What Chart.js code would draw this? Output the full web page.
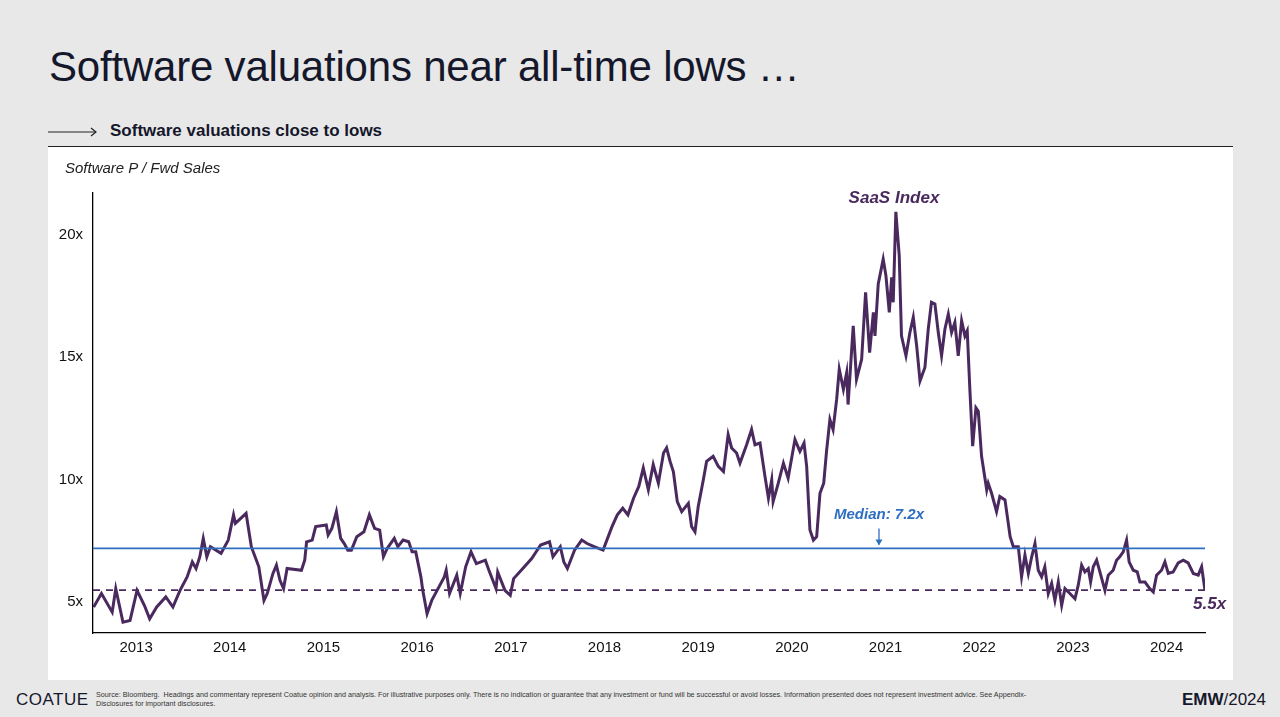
<!DOCTYPE html>
<html>
<head>
<meta charset="utf-8">
<script src="https://cdn.jsdelivr.net/npm/chart.js@4.4.0/dist/chart.umd.min.js"></script>
<style>
  body { margin: 0; width: 1280px; height: 717px; background: #e8e8e8; font-family: "Liberation Sans", Arial, sans-serif; position: relative; overflow: hidden; }
  #title { position: absolute; left: 49px; top: 43px; font-size: 42px; color: #15172b; letter-spacing: -0.2px; }
  #sub { position: absolute; left: 48px; top: 121px; font-size: 17px; font-weight: bold; color: #15172b; }
  #sub svg { vertical-align: middle; margin-right: 10px; }
  #rule { position: absolute; left: 48px; top: 146px; width: 1185px; height: 1px; background: #222; }
  #panel { position: absolute; left: 48px; top: 147px; width: 1185px; height: 533px; background: #fff; }
  #ylab { position: absolute; left: 65px; top: 159px; font-size: 15px; font-style: italic; color: #222; }
  #logo { position: absolute; left: 16px; top: 690px; font-size: 17px; color: #15172b; letter-spacing: 0.5px; }
  #src { position: absolute; left: 96px; top: 690px; width: 1050px; font-size: 7.2px; line-height: 9px; color: #333; }
  #emw { position: absolute; right: 14px; top: 690px; font-size: 17px; color: #15172b; }
</style>
</head>
<body>
<div id="title">Software valuations near all-time lows …</div>
<div id="sub"><svg width="52" height="10"><line x1="0" y1="5" x2="48" y2="5" stroke="#222" stroke-width="1.2"/><polyline points="43,1 48,5 43,9" fill="none" stroke="#222" stroke-width="1.2"/></svg>Software valuations close to lows</div>
<div id="rule"></div>
<div id="panel"><canvas id="saasChart" width="1185" height="533"></canvas></div>
<div id="ylab">Software P / Fwd Sales</div>
<div id="logo">COATUE</div>
<div id="src">Source: Bloomberg.&nbsp; Headings and commentary represent Coatue opinion and analysis. For illustrative purposes only. There is no indication or guarantee that any investment or fund will be successful or avoid losses. Information presented does not represent investment advice. See Appendix-<br>Disclosures for important disclosures.</div>
<div id="emw"><b>EMW</b>/2024</div>
<script>
// Software P / Fwd Sales (year, multiple)
const saasData = [
  [2012.547,4.81],[2012.63,5.36],[2012.745,4.60],[2012.783,5.56],[2012.86,4.19],[2012.935,4.26],
  [2013.01,5.49],[2013.088,4.88],[2013.145,4.33],[2013.22,4.81],[2013.317,5.22],[2013.393,4.81],
  [2013.469,5.49],[2013.545,6.04],[2013.60,6.65],[2013.64,6.38],[2013.68,6.86],[2013.717,7.61],
  [2013.755,6.86],[2013.793,7.27],[2013.907,7.0],[2013.984,7.54],[2014.04,8.57],[2014.06,8.22],
  [2014.174,8.63],[2014.23,7.27],[2014.31,6.45],[2014.365,5.08],[2014.40,5.36],[2014.46,6.17],
  [2014.498,6.52],[2014.536,5.90],[2014.574,5.56],[2014.612,6.38],[2014.765,6.31],[2014.80,6.72],
  [2014.82,7.47],[2014.88,7.54],[2014.917,8.09],[2015.03,8.16],[2015.05,7.75],[2015.09,8.02],
  [2015.138,8.70],[2015.184,7.61],[2015.222,7.40],[2015.26,7.13],[2015.298,7.13],[2015.356,7.68],
  [2015.432,7.88],[2015.49,8.57],[2015.546,8.02],[2015.60,7.95],[2015.64,6.86],[2015.68,7.2],
  [2015.756,7.61],[2015.794,7.27],[2015.85,7.54],[2015.91,7.47],[2015.946,7.06],[2015.985,7.06],
  [2016.04,6.04],[2016.06,5.49],[2016.106,4.54],[2016.156,5.08],[2016.213,5.49],[2016.29,6.04],
  [2016.31,6.31],[2016.346,5.36],[2016.423,6.11],[2016.46,5.36],[2016.518,6.45],[2016.575,7.06],
  [2016.632,6.58],[2016.728,6.72],[2016.766,6.31],[2016.842,5.56],[2016.86,6.24],[2016.937,5.49],
  [2016.994,5.29],[2017.03,5.97],[2017.128,6.38],[2017.223,6.79],[2017.318,7.34],[2017.413,7.47],
  [2017.45,6.86],[2017.528,7.27],[2017.566,6.65],[2017.604,6.38],[2017.68,7.13],[2017.757,7.54],
  [2017.814,7.40],[2017.89,7.27],[2017.985,7.13],[2018.08,8.09],[2018.137,8.57],[2018.195,8.84],
  [2018.25,8.57],[2018.31,9.25],[2018.366,9.73],[2018.414,10.48],[2018.468,9.59],[2018.52,10.62],
  [2018.575,9.86],[2018.63,11.09],[2018.663,11.3],[2018.70,10.75],[2018.735,10.34],[2018.777,9.11],
  [2018.824,8.7],[2018.895,9.04],[2018.93,8.09],[2018.966,7.88],[2019.0,8.9],[2019.055,10.0],
  [2019.09,10.75],[2019.16,10.96],[2019.215,10.55],[2019.27,10.34],[2019.32,11.84],[2019.357,11.3],
  [2019.41,11.09],[2019.446,10.68],[2019.517,11.43],[2019.57,12.05],[2019.606,11.43],[2019.66,11.5],
  [2019.713,10.14],[2019.75,9.25],[2019.785,10.0],[2019.80,9.11],[2019.855,9.86],[2019.91,10.68],
  [2019.96,10.07],[2020.033,11.64],[2020.086,11.16],[2020.13,11.5],[2020.158,10.55],[2020.193,7.95],
  [2020.23,7.54],[2020.265,7.68],[2020.30,9.45],[2020.34,9.86],[2020.37,11.16],[2020.406,12.46],
  [2020.44,12.05],[2020.478,13.28],[2020.506,14.51],[2020.55,13.69],[2020.585,14.37],[2020.6,13.07],
  [2020.655,16.28],[2020.69,14.1],[2020.745,14.92],[2020.787,17.65],[2020.83,15.19],[2020.87,16.83],
  [2020.887,15.87],[2020.922,17.99],[2020.975,19.0],[2021.004,18.33],[2021.04,16.83],[2021.065,18.26],
  [2021.082,17.24],[2021.11,20.93],[2021.146,19.15],[2021.17,15.87],[2021.218,15.06],[2021.26,16.01],
  [2021.296,16.63],[2021.332,15.47],[2021.368,14.03],[2021.42,14.58],[2021.456,16.15],[2021.49,17.24],
  [2021.527,17.17],[2021.563,16.01],[2021.598,15.06],[2021.634,16.15],[2021.67,16.76],[2021.705,16.01],
  [2021.74,16.42],[2021.776,15.06],[2021.812,16.49],[2021.847,15.87],[2021.872,16.08],[2021.9,13.69],
  [2021.93,11.37],[2021.965,12.94],[2021.99,12.8],[2022.025,10.96],[2022.08,9.59],[2022.096,9.86],
  [2022.132,9.45],[2022.185,8.7],[2022.22,9.32],[2022.275,9.18],[2022.33,7.68],[2022.364,7.27],
  [2022.417,7.27],[2022.452,6.04],[2022.488,6.93],[2022.524,6.18],[2022.56,6.86],[2022.595,7.4],
  [2022.63,6.31],[2022.666,6.04],[2022.70,6.45],[2022.737,5.36],[2022.773,5.77],[2022.808,5.08],
  [2022.844,5.83],[2022.88,4.88],[2022.915,5.56],[2022.968,5.36],[2023.022,5.15],[2023.057,5.7],
  [2023.093,6.52],[2023.128,6.24],[2023.164,6.38],[2023.189,5.83],[2023.217,6.45],[2023.253,6.72],
  [2023.288,6.24],[2023.342,5.49],[2023.377,6.11],[2023.43,6.31],[2023.466,6.72],[2023.5,6.86],
  [2023.537,7.06],[2023.573,7.54],[2023.60,6.65],[2023.644,6.31],[2023.687,6.24],[2023.715,5.83],
  [2023.769,5.83],[2023.82,5.56],[2023.858,5.42],[2023.893,6.11],[2023.946,6.31],[2023.982,6.65],
  [2024.018,6.18],[2024.07,6.24],[2024.124,6.61],[2024.178,6.72],[2024.23,6.61],[2024.285,6.18],
  [2024.338,6.11],[2024.374,6.45],[2024.41,5.49]
];
const xMin = 2012.54, xMax = 2024.41;
const mediana = 7.2, actual = 5.5;
const morado = '#4a2a5e', azul = '#2f6fc0';

// Anotaciones de texto
const notas = {
  id: 'notas',
  afterDatasetsDraw(chart) {
    const { ctx, scales: { x, y } } = chart;
    ctx.save();
    ctx.font = 'italic bold 17px "Liberation Sans", Arial';
    ctx.fillStyle = morado;
    ctx.textAlign = 'center';
    ctx.fillText('SaaS Index', x.getPixelForValue(2021.09), y.getPixelForValue(21.05) - 6);
    ctx.textAlign = 'left';
    ctx.fillText('5.5x', x.getPixelForValue(xMax) - 12, y.getPixelForValue(actual) + 19);
    ctx.font = 'italic bold 15px "Liberation Sans", Arial';
    ctx.fillStyle = azul;
    ctx.textAlign = 'center';
    const ax = x.getPixelForValue(2020.93);
    ctx.fillText('Median: 7.2x', ax, y.getPixelForValue(mediana) - 29);
    ctx.strokeStyle = azul; ctx.lineWidth = 1.3;
    ctx.beginPath(); ctx.moveTo(ax, y.getPixelForValue(mediana) - 20); ctx.lineTo(ax, y.getPixelForValue(mediana) - 4); ctx.stroke();
    ctx.beginPath(); ctx.moveTo(ax - 3.5, y.getPixelForValue(mediana) - 9); ctx.lineTo(ax, y.getPixelForValue(mediana) - 3);
    ctx.lineTo(ax + 3.5, y.getPixelForValue(mediana) - 9); ctx.closePath(); ctx.fillStyle = azul; ctx.fill();
    ctx.restore();
  }
};

const ctxSaas = document.getElementById('saasChart').getContext('2d');
const saasChart = new Chart(ctxSaas, {
  type: 'line',
  data: {
    datasets: [
      { label: 'Median', data: [{x: xMin, y: mediana}, {x: xMax, y: mediana}], borderColor: azul, borderWidth: 1.8, pointRadius: 0 },
      { label: 'Actual', data: [{x: xMin, y: actual}, {x: xMax, y: actual}], borderColor: morado, borderWidth: 1.8, borderDash: [7, 6], pointRadius: 0 },
      { label: 'SaaS Index', data: saasData.map(([x, y]) => ({ x, y })), borderColor: morado, borderWidth: 3, pointRadius: 0, tension: 0 }
    ]
  },
  options: {
    responsive: false, animation: false,
    layout: { padding: { top: 46, right: 28, left: 0, bottom: 0 } },
    plugins: { legend: { display: false }, tooltip: { enabled: false } },
    scales: {
      x: {
        type: 'linear', min: xMin, max: xMax,
        afterBuildTicks: s => { s.ticks = []; for (let a = 2013; a <= 2024; a++) s.ticks.push({ value: a }); },
        ticks: { callback: v => String(v), color: '#111', font: { size: 15, family: '"Liberation Sans", Arial' }, maxRotation: 0, padding: 6 },
        grid: { display: false, drawTicks: false },
        border: { color: '#000', width: 1.3 },
        afterFit: s => { s.height = 47; }
      },
      y: {
        min: 3.75, max: 21.7,
        afterBuildTicks: s => { s.ticks = [5, 10, 15, 20].map(v => ({ value: v })); },
        ticks: { callback: v => v + 'x', color: '#111', font: { size: 15, family: '"Liberation Sans", Arial' }, padding: 10 },
        grid: { display: false, drawTicks: false },
        border: { color: '#000', width: 1.3 },
        afterFit: s => { s.width = 45; }
      }
    }
  },
  plugins: [notas]
});
</script>
</body>
</html>
